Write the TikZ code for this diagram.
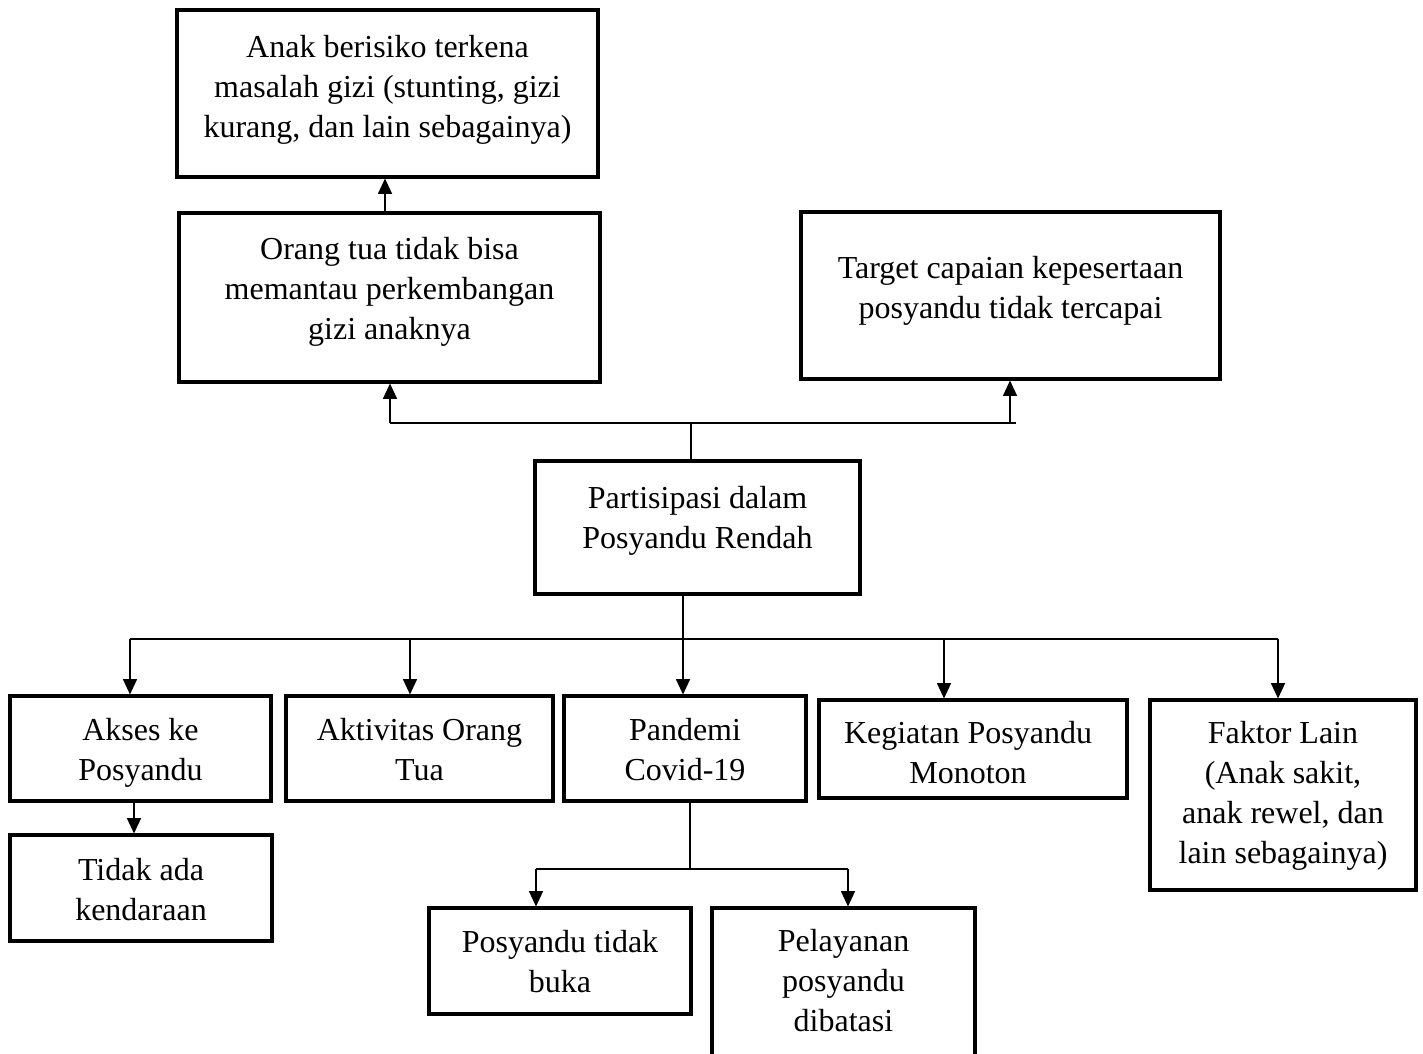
\documentclass[tikz,border=0pt]{standalone}
\usepackage{fontspec}
\setmainfont{Liberation Serif}
\usetikzlibrary{arrows.meta}
\begin{document}
\begin{tikzpicture}[x=0.75pt,y=-0.75pt,
  box/.style={draw,line width=2.3pt,rectangle,inner sep=0pt},
  txt/.style={inner sep=0pt,align=center,font=\fontsize{24}{30}\selectfont},
  conn/.style={line width=1pt},
  arr/.style={line width=1pt,-{Triangle[length=11.5pt,width=10.5pt]}}]
\useasboundingbox (0,0) rectangle (1423,1053);
% boxes
\node[box,minimum width=421*0.75pt,minimum height=167*0.75pt] (A) at (387.5,93.5) {};
\node[txt] (At) at (387.5,89.5)
  {Anak berisiko terkena\\masalah gizi (stunting, gizi\\kurang, dan lain sebagainya)};
\node[box,minimum width=421*0.75pt,minimum height=169*0.75pt] (B) at (389.5,297.5) {};
\node[txt] (Bt) at (389.5,291.5)
  {Orang tua tidak bisa\\memantau perkembangan\\gizi anaknya};
\node[box,minimum width=419*0.75pt,minimum height=167*0.75pt] (C) at (1010.5,295.5) {};
\node[txt] (Ct) at (1010.5,290.5)
  {Target capaian kepesertaan\\posyandu tidak tercapai};
\node[box,minimum width=325*0.75pt,minimum height=133*0.75pt] (D) at (697.5,527.5) {};
\node[txt] (Dt) at (697.5,520.5)
  {Partisipasi dalam\\Posyandu Rendah};
\node[box,minimum width=261*0.75pt,minimum height=105*0.75pt] (E1) at (140.5,748.5) {};
\node[txt] (E1t) at (140.5,752.5) {Akses ke\\Posyandu};
\node[box,minimum width=267*0.75pt,minimum height=105*0.75pt] (E2) at (419.5,748.5) {};
\node[txt] (E2t) at (419.5,749.5) {Aktivitas Orang\\Tua};
\node[box,minimum width=242*0.75pt,minimum height=105*0.75pt] (E3) at (685,748.5) {};
\node[txt] (E3t) at (685,749.5) {Pandemi\\Covid-19};
\node[box,minimum width=308*0.75pt,minimum height=98*0.75pt] (E4) at (973,749) {};
\node[txt] (E4t) at (968,753) {Kegiatan Posyandu\\Monoton};
\node[box,minimum width=266*0.75pt,minimum height=190*0.75pt] (E5) at (1283,795) {};
\node[txt] (E5t) at (1283,796)
  {Faktor Lain\\(Anak sakit,\\anak rewel, dan\\lain sebagainya)};
\node[box,minimum width=262*0.75pt,minimum height=106*0.75pt] (F1) at (141,888) {};
\node[txt] (F1t) at (141,890) {Tidak ada\\kendaraan};
\node[box,minimum width=262*0.75pt,minimum height=106*0.75pt] (G1) at (560,961) {};
\node[txt] (G1t) at (560,962) {Posyandu tidak\\buka};
\node[box,minimum width=263*0.75pt,minimum height=154*0.75pt] (G2) at (843.5,985) {};
\node[txt] (G2t) at (843.5,981) {Pelayanan\\posyandu\\dibatasi};
% junction coordinates
\coordinate (tJ) at (691,423);
\coordinate (tL) at (390,423);
\coordinate (tR) at (1016,423);
\coordinate (tC) at (1010,423);
\coordinate (bJ) at (683,639);
\coordinate (bL) at (130,639);
\coordinate (bR) at (1278,639);
\coordinate (b2) at (410,639);
\coordinate (b4) at (944,639);
\coordinate (pJ) at (690,869);
\coordinate (pL) at (536,869);
\coordinate (pR) at (848,869);
\coordinate (aT) at (134,801);
\coordinate (bA) at (385,213);
% top connectors
\draw[arr] (bA) -- (bA |- A.south);
\draw[conn] (D.north -| tJ) -- (tJ);
\draw[conn] (tL) -- (tR);
\draw[arr] (tL) -- (tL |- B.south);
\draw[arr] (tC) -- (tC |- C.south);
% bottom connectors
\draw[conn] (D.south -| bJ) -- (bJ);
\draw[conn] (bL) -- (bR);
\draw[arr] (bL) -- (bL |- E1.north);
\draw[arr] (b2) -- (b2 |- E2.north);
\draw[arr] (bJ) -- (bJ |- E3.north);
\draw[arr] (b4) -- (b4 |- E4.north);
\draw[arr] (bR) -- (bR |- E5.north);
\draw[arr] (aT) -- (aT |- F1.north);
\draw[conn] (E3.south -| pJ) -- (pJ);
\draw[conn] (pL) -- (pR);
\draw[arr] (pL) -- (pL |- G1.north);
\draw[arr] (pR) -- (pR |- G2.north);
\end{tikzpicture}
\end{document}
